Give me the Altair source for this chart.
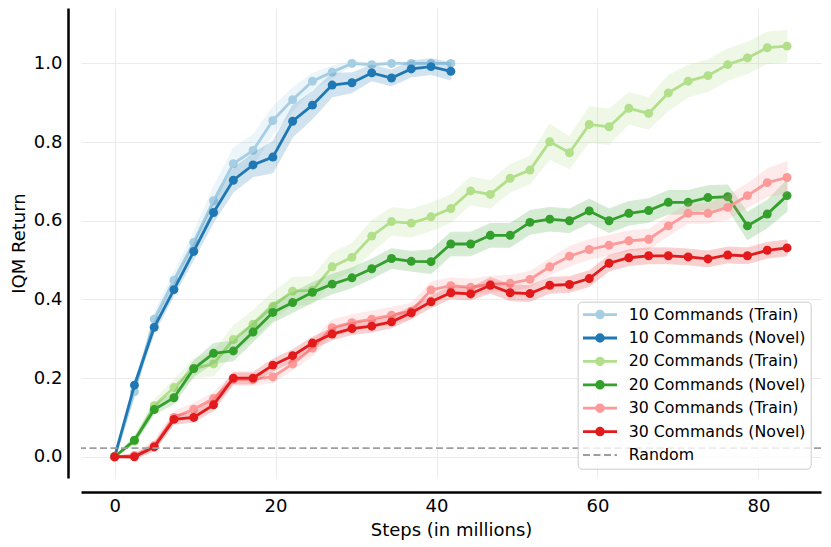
import altair as alt
import pandas as pd

# ---------------- data ----------------
steps = [0.0, 2.46, 4.92, 7.37, 9.83, 12.29, 14.75, 17.2, 19.66, 22.12, 24.58,
         27.03, 29.49, 31.95, 34.41, 36.86, 39.32, 41.78, 44.24, 46.69, 49.15,
         51.61, 54.07, 56.52, 58.98, 61.44, 63.9, 66.36, 68.81, 71.27, 73.73,
         76.19, 78.64, 81.1, 83.56]

train10 = [0.0, 0.165, 0.35, 0.449, 0.545, 0.651, 0.745, 0.779, 0.855, 0.908,
           0.955, 0.978, 1.0, 0.997, 1.0, 1.0, 1.0, 1.0]
novel10 = [0.0, 0.182, 0.329, 0.425, 0.522, 0.621, 0.703, 0.742, 0.762, 0.853,
           0.894, 0.945, 0.951, 0.976, 0.963, 0.986, 0.992, 0.98]
train20 = [0.0, 0.04, 0.13, 0.176, 0.225, 0.236, 0.298, 0.337, 0.383, 0.421,
           0.423, 0.483, 0.507, 0.561, 0.598, 0.594, 0.61, 0.631, 0.676, 0.667,
           0.708, 0.729, 0.801, 0.773, 0.845, 0.839, 0.886, 0.873, 0.925, 0.955,
           0.969, 0.997, 1.014, 1.04, 1.044]
novel20 = [0.0, 0.042, 0.12, 0.15, 0.224, 0.263, 0.269, 0.317, 0.367, 0.392,
           0.418, 0.439, 0.455, 0.478, 0.504, 0.497, 0.496, 0.541, 0.541, 0.563,
           0.563, 0.596, 0.604, 0.6, 0.625, 0.6, 0.619, 0.626, 0.647, 0.647,
           0.659, 0.661, 0.587, 0.617, 0.664]
train30 = [0.0, 0.003, 0.028, 0.1, 0.121, 0.148, 0.197, 0.197, 0.203, 0.236,
           0.276, 0.328, 0.341, 0.35, 0.36, 0.37, 0.424, 0.435, 0.431, 0.439,
           0.441, 0.451, 0.483, 0.51, 0.527, 0.538, 0.549, 0.553, 0.587, 0.619,
           0.619, 0.634, 0.664, 0.697, 0.71]
novel30 = [0.0, 0.0, 0.025, 0.095, 0.1, 0.132, 0.2, 0.2, 0.233, 0.257,
           0.289, 0.312, 0.326, 0.332, 0.343, 0.366, 0.394, 0.417, 0.414, 0.436,
           0.417, 0.415, 0.436, 0.438, 0.453, 0.492, 0.506, 0.511, 0.511, 0.508,
           0.503, 0.513, 0.511, 0.525, 0.531]

# half-widths of the shaded bands
band_train10 = [0.0, 0.012, 0.015, 0.02, 0.025, 0.035, 0.04, 0.04, 0.035, 0.03,
                0.02, 0.015, 0.005, 0.005, 0.003, 0.003, 0.003, 0.003]
band_novel10 = [0.0, 0.01, 0.015, 0.015, 0.02, 0.025, 0.03, 0.03, 0.04, 0.04,
                0.035, 0.03, 0.025, 0.02, 0.02, 0.02, 0.02, 0.022]
band_train20 = [0.0, 0.01, 0.015, 0.02, 0.025, 0.03, 0.035, 0.035, 0.035, 0.035,
                0.035, 0.035, 0.035, 0.04, 0.035, 0.035, 0.035, 0.035, 0.035, 0.035,
                0.035, 0.035, 0.045, 0.04, 0.045, 0.045, 0.04, 0.04, 0.045, 0.04,
                0.04, 0.04, 0.04, 0.04, 0.04]
band_novel20 = [0.0, 0.008, 0.012, 0.015, 0.02, 0.025, 0.025, 0.025, 0.025, 0.025,
                0.025, 0.025, 0.025, 0.025, 0.025, 0.025, 0.03, 0.03, 0.03, 0.03,
                0.03, 0.03, 0.03, 0.03, 0.03, 0.03, 0.03, 0.03, 0.03, 0.03,
                0.03, 0.03, 0.035, 0.035, 0.04]
band_train30 = [0.0, 0.008, 0.012, 0.015, 0.015, 0.015, 0.015, 0.015, 0.015, 0.015,
                0.02, 0.02, 0.02, 0.02, 0.02, 0.02, 0.02, 0.02, 0.02, 0.02,
                0.02, 0.02, 0.02, 0.025, 0.025, 0.025, 0.025, 0.025, 0.025, 0.025,
                0.025, 0.03, 0.03, 0.035, 0.04]
band_novel30 = [0.0, 0.005, 0.01, 0.012, 0.012, 0.015, 0.015, 0.015, 0.015, 0.015,
                0.015, 0.015, 0.015, 0.015, 0.015, 0.015, 0.015, 0.015, 0.015, 0.02,
                0.02, 0.02, 0.02, 0.02, 0.02, 0.02, 0.02, 0.02, 0.02, 0.02,
                0.02, 0.02, 0.02, 0.02, 0.02]

random_level = [0.022]

names = ["10 Commands (Train)", "10 Commands (Novel)",
         "20 Commands (Train)", "20 Commands (Novel)",
         "30 Commands (Train)", "30 Commands (Novel)", "Random"]
colors = ["#a6cee3", "#1f78b4", "#b2df8a", "#33a02c", "#fb9a99", "#e31a1c", "#9e9e9e"]

x_ticks = [0, 20, 40, 60, 80]
y_ticks = [0.0, 0.2, 0.4, 0.6, 0.8, 1.0]

series_vals = [train10, novel10, train20, novel20, train30, novel30]
series_band = [band_train10, band_novel10, band_train20, band_novel20, band_train30, band_novel30]

rows = []
for name, vals, bands in zip(names[:6], series_vals, series_band):
    for i, (v, b) in enumerate(zip(vals, bands)):
        rows.append({"series": name, "step": steps[i], "value": v,
                     "lo": v - b, "hi": v + b})
df = pd.DataFrame(rows)
rand_df = pd.DataFrame({"series": ["Random"], "value": random_level})

# ---------------- scales / axes ----------------
FONT = "DejaVu Sans"
LW = 2.8
xs = alt.Scale(domain=[-4.18, 87.78], nice=False, zero=False)
ys = alt.Scale(domain=[-0.054, 1.141], nice=False, zero=False)
cs = alt.Scale(domain=names, range=colors)
# band scale has its own domain (no "Random") so its disabled legend is not
# merged with the color legend
bs = alt.Scale(domain=names[:6], range=colors[:6])

# legend symbols (stroke width 1.8, units of 5 px):
# thick line (two close strokes) + filled dot (concentric rings)
dot_path = ("M-3.4,-0.1L3.4,-0.1M-3.4,0.1L3.4,0.1"
            "M-0.16,0A0.16,0.16,0,1,0,0.16,0A0.16,0.16,0,1,0,-0.16,0"
            "M-0.46,0A0.46,0.46,0,1,0,0.46,0A0.46,0.46,0,1,0,-0.46,0"
            "M-0.77,0A0.77,0.77,0,1,0,0.77,0A0.77,0.77,0,1,0,-0.77,0")
# thin dashed line (for "Random")
rand_path = "M-3.4,0L-2.0,0M-1.3,0L0.1,0M0.8,0L2.2,0M2.9,0L3.4,0"
shape_scale = alt.Scale(domain=names, range=[dot_path] * 6 + [rand_path])

x_axis = alt.Axis(values=x_ticks, title="Steps (in millions)", offset=14,
                  ticks=False, tickSize=0, labelPadding=5, titlePadding=6,
                  domainColor="black", domainWidth=2.5, grid=True,
                  gridColor="#ebebeb", gridWidth=1, labelFlush=False)
y_axis = alt.Axis(values=y_ticks, format=".1f", title="IQM Return", offset=13,
                  ticks=False, tickSize=0, labelPadding=6, titlePadding=5,
                  domainColor="black", domainWidth=2.5, grid=True,
                  gridColor="#ebebeb", gridWidth=1)

legend = alt.Legend(
    title=None, orient="none", legendX=496.7, legendY=293.7,
    symbolType=dot_path, symbolSize=100, symbolStrokeWidth=1.8,
    symbolOffset=9.4, labelOffset=20.8, rowPadding=6.4, padding=5,
    labelFont=FONT, labelFontSize=15.8, labelColor="black", labelLimit=0,
    fillColor="rgba(255,255,255,0.8)", strokeColor="#cccccc", cornerRadius=4,
)

X = alt.X("step:Q", scale=xs, axis=x_axis)
layers = []
for name in names[:6]:
    sub = alt.Chart(df).transform_filter(alt.datum.series == name)
    area = sub.mark_area(opacity=0.2, strokeWidth=1).encode(
        x=X,
        y=alt.Y("lo:Q", scale=ys, axis=y_axis),
        y2="hi:Q",
        fill=alt.Fill("series:N", scale=bs, legend=None),
        stroke=alt.Stroke("series:N", scale=bs, legend=None),
    )
    line = sub.mark_line(strokeWidth=LW).encode(
        x=X,
        y=alt.Y("value:Q", scale=ys, axis=y_axis),
        color=alt.Color("series:N", scale=cs, legend=legend),
    )
    pts = sub.mark_point(filled=True, size=80, opacity=1).encode(
        x=X,
        y=alt.Y("value:Q", scale=ys, axis=y_axis),
        color=alt.Color("series:N", scale=cs, legend=legend),
    )
    layers += [area, line, pts]

rule = alt.Chart(rand_df).mark_rule(strokeDash=[7, 3.5], strokeWidth=1.8).encode(
    y=alt.Y("value:Q", scale=ys, axis=y_axis),
    color=alt.Color("series:N", scale=cs, legend=legend),
)
layers.append(rule)

# invisible layer that only gives the legend its per-entry symbol shapes
shape_src = alt.Chart(rand_df).mark_point(opacity=0).encode(
    y=alt.Y("value:Q", scale=ys, axis=y_axis),
    shape=alt.Shape("series:N", scale=shape_scale, legend=legend),
)
layers.append(shape_src)

chart = alt.layer(*layers).properties(
    width=740, height=470,
    padding={"left": 73, "top": 0, "right": 2, "bottom": 69},
    autosize=alt.AutoSizeParams(type="none"),
    background="white",
).configure_view(stroke=None).configure_axis(
    labelFont=FONT, titleFont=FONT, labelFontSize=18, titleFontSize=18,
    labelColor="black", titleColor="black", titleFontWeight="normal",
)

chart.save("out.html", embed_options={"renderer": "svg", "actions": False})
